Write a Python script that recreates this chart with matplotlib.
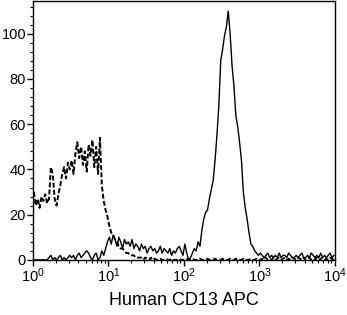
import numpy as np
import matplotlib
matplotlib.use('Agg')
import matplotlib.pyplot as plt
from matplotlib.ticker import MultipleLocator, LogLocator, NullFormatter

plt.rcParams['font.family'] = ['Liberation Sans', 'DejaVu Sans']

# 160 channels over 4 decades (40 per decade)
n_channels = 160
decades = 4

# stained sample (solid)
sample_counts = [
    0, 0, 0, 0, 0, 0, 0, 0, 1, 2,
    0, 1, 0, 1, 2, 0, 1, 0, 1, 2,
    1, 2, 0, 2, 3, 1, 2, 3, 4, 3,
    1, 0, 2, 3, 0, 1, 4, 2, 5, 8,
    10, 7, 11, 9, 6, 10, 8, 5, 9, 7,
    8, 6, 9, 5, 7, 6, 4, 7, 5, 6,
    3, 5, 6, 4, 5, 3, 4, 6, 3, 5,
    4, 3, 5, 2, 4, 3, 5, 6, 4, 2,
    7, 3, 0, 1, 3, 5, 4, 8, 6, 13,
    18, 21, 22, 27, 31, 35, 44, 55, 68, 88,
    93, 99, 103, 110, 100, 86, 77, 64, 59, 52,
    44, 30, 23, 18, 12, 7, 6, 4, 3, 2,
    3, 2, 1, 2, 3, 1, 2, 1, 2, 1,
    3, 1, 2, 2, 1, 3, 2, 1, 1, 2,
    1, 2, 3, 1, 1, 2, 1, 3, 2, 1,
    2, 1, 3, 1, 2, 1, 2, 3, 1, 2,
]

# isotype control (dashed)
control_counts = [
    30, 24, 27, 23, 28, 26, 29, 25, 27, 41,
    38, 27, 24, 29, 33, 38, 41, 36, 43, 40,
    44, 38, 47, 52, 45, 50, 42, 48, 39, 51,
    46, 53, 41, 50, 38, 54, 33, 26, 22, 19,
    15, 12, 11, 9, 8, 6, 5, 5, 4, 3,
    3, 2, 2, 2, 1, 1, 1, 1, 0, 1,
    0.5, 0, 1, 0, 0.5, 0, 0, 0.5, 0, 0,
    0.5, 0, 0, 0.5, 0, 0, 0, 0.5, 0, 0,
    0, 0.5, 0, 0, 0.5, 0, 0, 0, 0.5, 0,
    0, 0, 0.5, 0, 0, 0, 0.5, 0, 0, 0,
    0.5, 0, 0, 0, 0.5, 0, 0, 0.5, 0, 0,
    0, 0.5, 0, 0, 0, 0.5, 0, 0, 0.5, 0,
    0, 0.5, 0, 1, 0, 0.5, 0, 1, 0, 0.5,
    1, 0, 0.5, 1, 0, 0.5, 0, 1, 0.5, 0,
    1, 0.5, 0, 1, 0, 0.5, 1, 0, 0.5, 0,
    1, 0, 0.5, 1, 0, 0.5, 0, 1, 0.5, 0,
]

x_label = 'Human CD13 APC'

# channel centres on the log axis
chan = (np.arange(n_channels) + 0.5) * decades / n_channels
xs = 10 ** chan

fig = plt.figure(figsize=(3.47, 3.15), dpi=100)
ax = fig.add_axes([0.095, 0.175, 0.87, 0.822])

ax.plot(xs, control_counts, color='black', lw=1.4, linestyle=(0, (2.5, 1.2)))
ax.plot(xs, sample_counts, color='black', lw=1.0)

ax.set_xscale('log')
ax.set_xlim(1, 1e4)
ax.set_ylim(0, 114.5)

ax.yaxis.set_major_locator(MultipleLocator(20))
ax.yaxis.set_minor_locator(MultipleLocator(4))
ax.xaxis.set_major_locator(LogLocator(base=10, numticks=10))
ax.xaxis.set_minor_locator(LogLocator(base=10, subs=np.arange(2, 10), numticks=20))
ax.xaxis.set_minor_formatter(NullFormatter())

ax.tick_params(axis='both', which='major', direction='out', length=4, width=1,
               labelsize=10.5, pad=1)
ax.tick_params(axis='both', which='minor', direction='out', length=2.5, width=0.8)

for s in ax.spines.values():
    s.set_linewidth(1.0)

ax.set_xlabel(x_label, fontsize=13, labelpad=5)

fig.savefig('out.png', dpi=100)
